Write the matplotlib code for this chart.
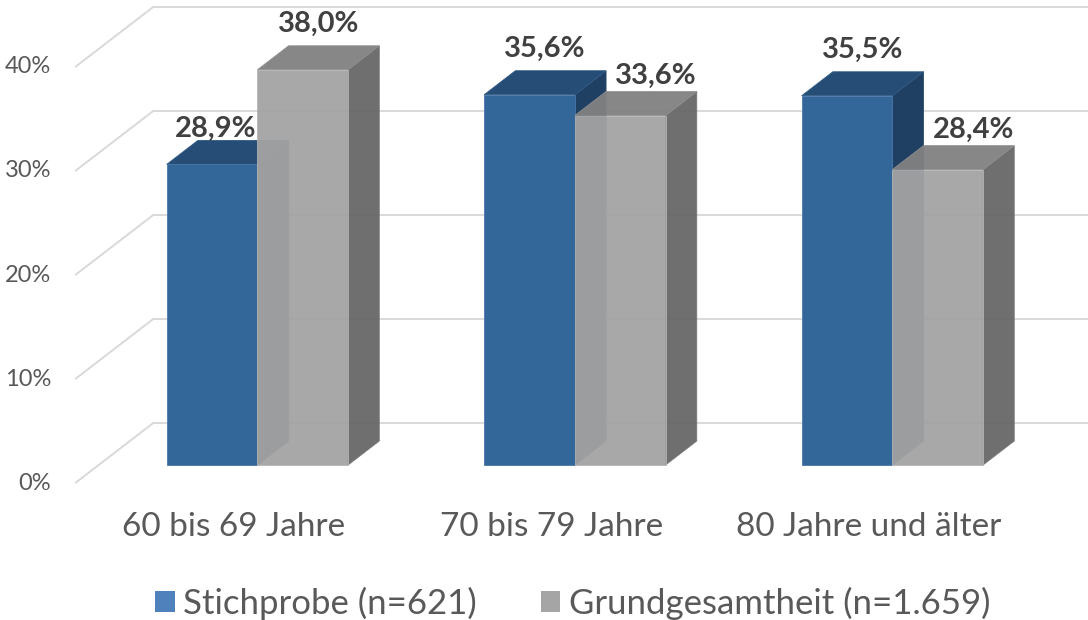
import matplotlib
matplotlib.use('Agg')
import matplotlib.pyplot as plt
from matplotlib.patches import Patch, Polygon

categories = ['60 bis 69 Jahre', '70 bis 79 Jahre', '80 Jahre und älter']
series_names = ['Stichprobe (n=621)', 'Grundgesamtheit (n=1.659)']
stichprobe = [28.9, 35.6, 35.5]
grundgesamtheit = [38.0, 33.6, 28.4]
yticks = [0, 10, 20, 30, 40]
ytick_labels = ['0%', '10%', '20%', '30%', '40%']

plt.rcParams['font.family'] = ['Lato', 'DejaVu Sans']

W, H, DPI = 1088, 620, 100
fig = plt.figure(figsize=(W / DPI, H / DPI), dpi=DPI)
ax = fig.add_axes([0, 0, 1, 1])
ax.set_xlim(-0.237, 3.19)
ax.set_ylim(-13.17, 46.44)
ax.axis('off')

# oblique projection of depth (z in 0..1) into data units
DX = 0.2457
DY = 5.77


def P(x, v, z):
    return (x + z * DX, v + z * DY)


grid_c = '#D9D9D9'
ncat = len(categories)
for v in yticks:
    x0, y0 = P(0, v, 1)
    x1, y1 = P(ncat + 0.5, v, 1)
    ax.plot([x0, x1], [y0, y1], color=grid_c, lw=1.4, zorder=1, solid_capstyle='butt')
    a = P(0, v, 0)
    b = P(0, v, 1)
    ax.plot([a[0], b[0]], [a[1], b[1]], color=grid_c, lw=1.4, zorder=1, solid_capstyle='butt')

bw = 1 / 3.5
z0, z1 = 0.3, 0.7

blue_faces = dict(front='#336699', top='#264D75', side='#1F3F63')
gray_faces = dict(front='#A3A3A3', top='#818181', side='#676767')
blue_edges = dict(front='#4A77A8', top='#2F5A86', side='#2A4B70')
gray_edges = dict(front='#B4B4B4', top='#909090', side='#777777')


def box(x0, x1, v, faces, edges, alpha, zo):
    side = [P(x1, 0, z0), P(x1, 0, z1), P(x1, v, z1), P(x1, v, z0)]
    top = [P(x0, v, z0), P(x1, v, z0), P(x1, v, z1), P(x0, v, z1)]
    front = [P(x0, 0, z0), P(x1, 0, z0), P(x1, v, z0), P(x0, v, z0)]
    for name, pts in (('side', side), ('top', top), ('front', front)):
        ax.add_patch(Polygon(pts, closed=True, facecolor=faces[name], edgecolor=edges[name],
                             lw=0.6, alpha=alpha, zorder=zo))


label_c = '#404040'
for i in range(ncat):
    c = i + 0.5
    s, g = stichprobe[i], grundgesamtheit[i]
    box(c - bw, c, s, blue_faces, blue_edges, 1.0, 2 + i * 2)
    box(c, c + bw, g, gray_faces, gray_edges, 0.95, 3 + i * 2)
    # the lower bar's label is nudged sideways, away from its taller neighbour
    s_dx, s_dy = (-12, 24) if s < g else (0, 34)
    g_dx, g_dy = (20, 28) if g < s else (0, 34)
    for xc, val, dx, dy in ((c - bw / 2, s, s_dx, s_dy), (c + bw / 2, g, g_dx, g_dy)):
        px, py = P(xc, val, (z0 + z1) / 2)
        ax.annotate(f'{val:.1f}%'.replace('.', ','), (px, py), xytext=(dx, dy),
                    textcoords='offset pixels', ha='center', va='center',
                    fontsize=21, fontweight='bold', color=label_c, zorder=20)
    px, py = P(c, 0, 0)
    ax.annotate(categories[i], (px, py), xytext=(0, -44), textcoords='offset pixels',
                ha='center', va='center', fontsize=24, color='#595959')

for v, lab in zip(yticks, ytick_labels):
    px, py = P(0, v, 0)
    ax.annotate(lab, (px, py), xytext=(-24, 0), textcoords='offset pixels',
                ha='right', va='center', fontsize=17, color='#595959')

handles = [Patch(facecolor='#4F81BD', edgecolor='none'),
           Patch(facecolor='#A5A5A5', edgecolor='none')]
fig.legend(handles, series_names, loc='center', bbox_to_anchor=(573 / W, 17 / H), ncol=2,
           frameon=False, fontsize=25, labelcolor='#595959', handlelength=0.55,
           handleheight=0.55, handletextpad=0.25, columnspacing=1.85)

fig.savefig('out.png', dpi=DPI)
